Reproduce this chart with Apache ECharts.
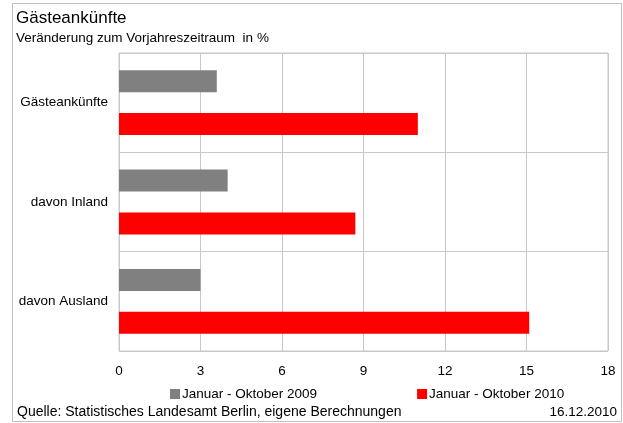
<!DOCTYPE html>
<html>
<head>
<meta charset="utf-8">
<script src="https://cdn.jsdelivr.net/npm/echarts@6/dist/echarts.min.js"></script>
<style>
  html, body { margin: 0; padding: 0; background: #fff; }
  #chart { width: 623px; height: 423px; }
</style>
</head>
<body>
<div id="chart"></div>
<script>
// Categories (top to bottom)
const categories = ['Gästeankünfte', 'davon Inland', 'davon Ausland'];
// Change versus the same period of the previous year, in %
const values2009 = [3.6, 4.0, 3.0];
const values2010 = [11.0, 8.7, 15.1];
const seriesNames = ['Januar - Oktober 2009', 'Januar - Oktober 2010'];
const xTicks = [0, 3, 6, 9, 12, 15, 18];

const FONT = '"Liberation Sans", Arial, sans-serif';
const LINE = '#c8c8c8';
const FS = 13.5;

const chart = echarts.init(document.getElementById('chart'), null, { renderer: 'canvas' });

chart.setOption({
  backgroundColor: '#fff',
  animation: false,
  textStyle: { fontFamily: FONT, color: '#000' },
  grid: {
    left: 119, right: 15, top: 53, bottom: 72,
    show: true, borderColor: LINE, borderWidth: 1, containLabel: false
  },
  xAxis: {
    type: 'value',
    min: xTicks[0],
    max: xTicks[xTicks.length - 1],
    interval: 3,
    axisLine: { show: false },
    axisTick: { show: false },
    axisLabel: { fontSize: FS, color: '#000', margin: 13, fontFamily: FONT },
    splitLine: { show: true, lineStyle: { color: LINE, width: 1 } }
  },
  yAxis: {
    type: 'category',
    data: categories,
    inverse: true,
    axisLine: { show: false },
    axisTick: { show: false },
    axisLabel: { fontSize: FS, color: '#000', margin: 11, fontFamily: FONT },
    splitLine: { show: true, lineStyle: { color: LINE, width: 1 } }
  },
  legend: {
    left: 170,
    top: 387,
    padding: 0,
    itemWidth: 10,
    itemHeight: 10,
    itemGap: 100,
    icon: 'rect',
    textStyle: { fontSize: FS, color: '#000', fontFamily: FONT, padding: [0, 0, 0, -3] },
    data: seriesNames
  },
  series: [
    {
      name: seriesNames[0],
      type: 'bar',
      data: values2009,
      barWidth: 22,
      barGap: '95%',
      itemStyle: { color: '#808080' }
    },
    {
      name: seriesNames[1],
      type: 'bar',
      data: values2010,
      barWidth: 22,
      barGap: '95%',
      itemStyle: { color: '#ff0000' }
    }
  ],
  graphic: [
    {
      type: 'rect',
      shape: { x: 12.5, y: 3.5, width: 609, height: 418 },
      style: { fill: null, stroke: '#c0c0c0', lineWidth: 1 },
      silent: true
    },
    {
      type: 'text', left: 16, top: 10,
      style: { text: 'Gästeankünfte', font: '17px ' + FONT, fill: '#000' }
    },
    {
      type: 'text', left: 16, top: 31,
      style: { text: 'Veränderung zum Vorjahreszeitraum  in %', font: FS + 'px ' + FONT, fill: '#000' }
    },
    {
      type: 'text', left: 17, top: 405,
      style: { text: 'Quelle: Statistisches Landesamt Berlin, eigene Berechnungen', font: '14px ' + FONT, fill: '#000' }
    },
    {
      type: 'text', right: 6, top: 405,
      style: { text: '16.12.2010', font: FS + 'px ' + FONT, fill: '#000' }
    }
  ]
});
</script>
</body>
</html>
